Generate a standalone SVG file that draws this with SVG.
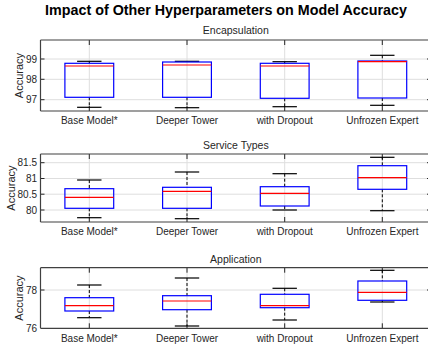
<svg xmlns="http://www.w3.org/2000/svg" width="428" height="349" viewBox="0 0 428 349">
<style>
text{font-family:"Liberation Sans",Arial,sans-serif;fill:#262626}
.title{font-size:14.3px;font-weight:bold;fill:#000}
.sub{font-size:10.5px;text-anchor:middle}
.tl{font-size:10px;text-anchor:middle}
.yt{font-size:10px;text-anchor:end}
.yl{font-size:11px;text-anchor:middle}
.grid{stroke:#dedede;stroke-width:1}
.spine{stroke:#404040;stroke-width:1.2;fill:none}
.tick{stroke:#262626;stroke-width:1}
.box{fill:none;stroke:#0000ff;stroke-width:1.2}
.med{stroke:#ff0000;stroke-width:1.2}
.wh{stroke:#000;stroke-width:1;stroke-dasharray:3,2}
.cap{stroke:#000;stroke-width:1.2}
</style>
<rect width="428" height="349" fill="#fff"/>
<text class="title" x="226" y="15" text-anchor="middle">Impact of Other Hyperparameters on Model Accuracy</text>

<!-- Panel 1 -->
<g id="panel-encapsulation">
<text class="sub" x="235.8" y="34.3">Encapsulation</text>
<g class="grid">
<line x1="40.5" y1="59" x2="431" y2="59"/><line x1="40.5" y1="79.3" x2="431" y2="79.3"/><line x1="40.5" y1="99.7" x2="431" y2="99.7"/>
<line x1="89.3" y1="40" x2="89.3" y2="111"/><line x1="187" y1="40" x2="187" y2="111"/><line x1="284.7" y1="40" x2="284.7" y2="111"/><line x1="382.3" y1="40" x2="382.3" y2="111"/>
</g>
<g class="tick">
<line x1="40.5" y1="59" x2="44.5" y2="59"/><line x1="40.5" y1="79.3" x2="44.5" y2="79.3"/><line x1="40.5" y1="99.7" x2="44.5" y2="99.7"/>
<line x1="427" y1="59" x2="431" y2="59"/><line x1="427" y1="79.3" x2="431" y2="79.3"/><line x1="427" y1="99.7" x2="431" y2="99.7"/>
<line x1="89.3" y1="40" x2="89.3" y2="45"/><line x1="187" y1="40" x2="187" y2="45"/><line x1="284.7" y1="40" x2="284.7" y2="45"/><line x1="382.3" y1="40" x2="382.3" y2="45"/>
<line x1="89.3" y1="106" x2="89.3" y2="111"/><line x1="187" y1="106" x2="187" y2="111"/><line x1="284.7" y1="106" x2="284.7" y2="111"/><line x1="382.3" y1="106" x2="382.3" y2="111"/>
</g>
<path class="spine" d="M40.5 40H431M40.5 111H431M40.5 40V111"/>
<text class="yt" x="37" y="62.5">99</text><text class="yt" x="37" y="82.8">98</text><text class="yt" x="37" y="103.2">97</text>
<text class="yl" transform="translate(23,75.5) rotate(-90)">Accuracy</text>
<text class="tl" x="89.3" y="123.5">Base Model*</text><text class="tl" x="187" y="123.5">Deeper Tower</text><text class="tl" x="284.7" y="123.5">with Dropout</text><text class="tl" x="382.3" y="123.5">Unfrozen Expert</text>
<g id="p1-base"><line class="wh" x1="89.3" y1="61.3" x2="89.3" y2="63.3"/><line class="wh" x1="89.3" y1="97.3" x2="89.3" y2="107.3"/><line class="cap" x1="77.1" y1="61.3" x2="101.5" y2="61.3"/><line class="cap" x1="77.1" y1="107.3" x2="101.5" y2="107.3"/><rect class="box" x="64.9" y="63.3" width="48.8" height="34"/><line class="med" x1="64.9" y1="66" x2="113.7" y2="66"/></g>
<g id="p1-deeper"><line class="wh" x1="187" y1="97.3" x2="187" y2="107.7"/><line class="cap" x1="174.8" y1="61.3" x2="199.2" y2="61.3"/><line class="cap" x1="174.8" y1="107.7" x2="199.2" y2="107.7"/><rect class="box" x="162.6" y="62" width="48.8" height="35.3"/><line class="med" x1="162.6" y1="65" x2="211.4" y2="65"/></g>
<g id="p1-dropout"><line class="wh" x1="284.7" y1="61.7" x2="284.7" y2="63.3"/><line class="wh" x1="284.7" y1="98.3" x2="284.7" y2="106.7"/><line class="cap" x1="272.5" y1="61.7" x2="296.9" y2="61.7"/><line class="cap" x1="272.5" y1="106.7" x2="296.9" y2="106.7"/><rect class="box" x="260.3" y="63.3" width="48.8" height="35"/><line class="med" x1="260.3" y1="66" x2="309.1" y2="66"/></g>
<g id="p1-unfrozen"><line class="wh" x1="382.3" y1="55.3" x2="382.3" y2="61"/><line class="wh" x1="382.3" y1="98" x2="382.3" y2="105.3"/><line class="cap" x1="370.1" y1="55.3" x2="394.5" y2="55.3"/><line class="cap" x1="370.1" y1="105.3" x2="394.5" y2="105.3"/><rect class="box" x="357.9" y="61" width="48.8" height="37"/><line class="med" x1="357.9" y1="61.7" x2="406.7" y2="61.7"/></g>
</g>

<!-- Panel 2 -->
<g id="panel-service-types">
<text class="sub" x="235.8" y="149.3">Service Types</text>
<g class="grid">
<line x1="40.5" y1="162.7" x2="431" y2="162.7"/><line x1="40.5" y1="178.5" x2="431" y2="178.5"/><line x1="40.5" y1="194.2" x2="431" y2="194.2"/><line x1="40.5" y1="210" x2="431" y2="210"/>
<line x1="89.3" y1="154" x2="89.3" y2="222"/><line x1="187" y1="154" x2="187" y2="222"/><line x1="284.7" y1="154" x2="284.7" y2="222"/><line x1="382.3" y1="154" x2="382.3" y2="222"/>
</g>
<g class="tick">
<line x1="40.5" y1="162.7" x2="44.5" y2="162.7"/><line x1="40.5" y1="178.5" x2="44.5" y2="178.5"/><line x1="40.5" y1="194.2" x2="44.5" y2="194.2"/><line x1="40.5" y1="210" x2="44.5" y2="210"/>
<line x1="427" y1="162.7" x2="431" y2="162.7"/><line x1="427" y1="178.5" x2="431" y2="178.5"/><line x1="427" y1="194.2" x2="431" y2="194.2"/><line x1="427" y1="210" x2="431" y2="210"/>
<line x1="89.3" y1="154" x2="89.3" y2="159"/><line x1="187" y1="154" x2="187" y2="159"/><line x1="284.7" y1="154" x2="284.7" y2="159"/><line x1="382.3" y1="154" x2="382.3" y2="159"/>
<line x1="89.3" y1="217" x2="89.3" y2="222"/><line x1="187" y1="217" x2="187" y2="222"/><line x1="284.7" y1="217" x2="284.7" y2="222"/><line x1="382.3" y1="217" x2="382.3" y2="222"/>
</g>
<path class="spine" d="M40.5 154H431M40.5 222H431M40.5 154V222"/>
<text class="yt" x="37" y="166.2">81.5</text><text class="yt" x="37" y="182">81</text><text class="yt" x="37" y="197.7">80.5</text><text class="yt" x="37" y="213.5">80</text>
<text class="yl" transform="translate(15,188) rotate(-90)">Accuracy</text>
<text class="tl" x="89.3" y="234.5">Base Model*</text><text class="tl" x="187" y="234.5">Deeper Tower</text><text class="tl" x="284.7" y="234.5">with Dropout</text><text class="tl" x="382.3" y="234.5">Unfrozen Expert</text>
<g id="p2-base"><line class="wh" x1="89.3" y1="180" x2="89.3" y2="188.7"/><line class="wh" x1="89.3" y1="208.3" x2="89.3" y2="217.7"/><line class="cap" x1="77.1" y1="180" x2="101.5" y2="180"/><line class="cap" x1="77.1" y1="217.7" x2="101.5" y2="217.7"/><rect class="box" x="64.9" y="188.7" width="48.8" height="19.6"/><line class="med" x1="64.9" y1="197.3" x2="113.7" y2="197.3"/></g>
<g id="p2-deeper"><line class="wh" x1="187" y1="172" x2="187" y2="187.3"/><line class="wh" x1="187" y1="208.3" x2="187" y2="218.7"/><line class="cap" x1="174.8" y1="172" x2="199.2" y2="172"/><line class="cap" x1="174.8" y1="218.7" x2="199.2" y2="218.7"/><rect class="box" x="162.6" y="187.3" width="48.8" height="21"/><line class="med" x1="162.6" y1="191.3" x2="211.4" y2="191.3"/></g>
<g id="p2-dropout"><line class="wh" x1="284.7" y1="173.7" x2="284.7" y2="186.7"/><line class="wh" x1="284.7" y1="206" x2="284.7" y2="210"/><line class="cap" x1="272.5" y1="173.7" x2="296.9" y2="173.7"/><line class="cap" x1="272.5" y1="210" x2="296.9" y2="210"/><rect class="box" x="260.3" y="186.7" width="48.8" height="19.3"/><line class="med" x1="260.3" y1="193.3" x2="309.1" y2="193.3"/></g>
<g id="p2-unfrozen"><line class="wh" x1="382.3" y1="157.3" x2="382.3" y2="165.7"/><line class="wh" x1="382.3" y1="189.3" x2="382.3" y2="210.7"/><line class="cap" x1="370.1" y1="157.3" x2="394.5" y2="157.3"/><line class="cap" x1="370.1" y1="210.7" x2="394.5" y2="210.7"/><rect class="box" x="357.9" y="165.7" width="48.8" height="23.6"/><line class="med" x1="357.9" y1="177.7" x2="406.7" y2="177.7"/></g>
</g>

<!-- Panel 3 -->
<g id="panel-application">
<text class="sub" x="235.8" y="262.5">Application</text>
<g class="grid">
<line x1="40.5" y1="290" x2="431" y2="290"/>
<line x1="89.3" y1="267.7" x2="89.3" y2="328.3"/><line x1="187" y1="267.7" x2="187" y2="328.3"/><line x1="284.7" y1="267.7" x2="284.7" y2="328.3"/><line x1="382.3" y1="267.7" x2="382.3" y2="328.3"/>
</g>
<g class="tick">
<line x1="40.5" y1="290" x2="44.5" y2="290"/><line x1="427" y1="290" x2="431" y2="290"/>
<line x1="89.3" y1="267.7" x2="89.3" y2="272.7"/><line x1="187" y1="267.7" x2="187" y2="272.7"/><line x1="284.7" y1="267.7" x2="284.7" y2="272.7"/><line x1="382.3" y1="267.7" x2="382.3" y2="272.7"/>
<line x1="89.3" y1="323.3" x2="89.3" y2="328.3"/><line x1="187" y1="323.3" x2="187" y2="328.3"/><line x1="284.7" y1="323.3" x2="284.7" y2="328.3"/><line x1="382.3" y1="323.3" x2="382.3" y2="328.3"/>
</g>
<path class="spine" d="M40.5 267.7H431M40.5 328.3H431M40.5 267.7V328.3"/>
<text class="yt" x="37" y="293.5">78</text><text class="yt" x="37" y="331.8">76</text>
<text class="yl" transform="translate(23,298) rotate(-90)">Accuracy</text>
<text class="tl" x="89.3" y="341.5">Base Model*</text><text class="tl" x="187" y="341.5">Deeper Tower</text><text class="tl" x="284.7" y="341.5">with Dropout</text><text class="tl" x="382.3" y="341.5">Unfrozen Expert</text>
<g id="p3-base"><line class="wh" x1="89.3" y1="285" x2="89.3" y2="297.7"/><line class="wh" x1="89.3" y1="311" x2="89.3" y2="317.7"/><line class="cap" x1="77.1" y1="285" x2="101.5" y2="285"/><line class="cap" x1="77.1" y1="317.7" x2="101.5" y2="317.7"/><rect class="box" x="64.9" y="297.7" width="48.8" height="13.3"/><line class="med" x1="64.9" y1="305.7" x2="113.7" y2="305.7"/></g>
<g id="p3-deeper"><line class="wh" x1="187" y1="278" x2="187" y2="295.7"/><line class="wh" x1="187" y1="309.7" x2="187" y2="326"/><line class="cap" x1="174.8" y1="278" x2="199.2" y2="278"/><line class="cap" x1="174.8" y1="326" x2="199.2" y2="326"/><rect class="box" x="162.6" y="295.7" width="48.8" height="14"/><line class="med" x1="162.6" y1="301" x2="211.4" y2="301"/></g>
<g id="p3-dropout"><line class="wh" x1="284.7" y1="288.3" x2="284.7" y2="294.3"/><line class="wh" x1="284.7" y1="307.7" x2="284.7" y2="320"/><line class="cap" x1="272.5" y1="288.3" x2="296.9" y2="288.3"/><line class="cap" x1="272.5" y1="320" x2="296.9" y2="320"/><rect class="box" x="260.3" y="294.3" width="48.8" height="13.4"/><line class="med" x1="260.3" y1="305.7" x2="309.1" y2="305.7"/></g>
<g id="p3-unfrozen"><line class="wh" x1="382.3" y1="270.3" x2="382.3" y2="281"/><line class="wh" x1="382.3" y1="300.3" x2="382.3" y2="302"/><line class="cap" x1="370.1" y1="270.3" x2="394.5" y2="270.3"/><line class="cap" x1="370.1" y1="302" x2="394.5" y2="302"/><rect class="box" x="357.9" y="281" width="48.8" height="19.3"/><line class="med" x1="357.9" y1="292.3" x2="406.7" y2="292.3"/></g>
</g>
</svg>
